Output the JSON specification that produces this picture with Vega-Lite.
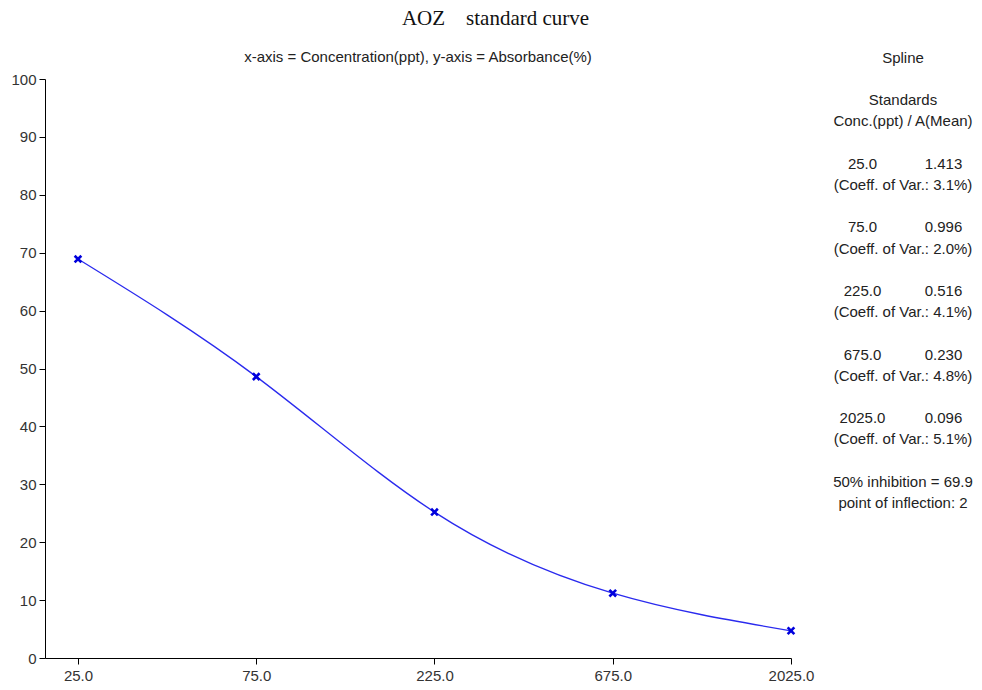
{
  "$schema": "https://vega.github.io/schema/vega-lite/v6.json",
  "background": "white",
  "padding": {"left": 10, "top": 8, "right": 2, "bottom": 4},
  "title": {
    "text": "AOZ\u00a0\u00a0\u00a0\u00a0standard curve",
    "font": "Liberation Serif",
    "fontSize": 21,
    "fontWeight": "normal",
    "color": "#111111",
    "anchor": "middle",
    "offset": 21
  },
  "config": {
    "view": {"stroke": null},
    "font": "Liberation Sans"
  },
  "spacing": 35,
  "bounds": "flush",
  "hconcat": [
    {
      "width": 746,
      "height": 579,
      "title": {
        "text": "x-axis = Concentration(ppt), y-axis = Absorbance(%)",
        "font": "Liberation Sans",
        "fontSize": 15,
        "fontWeight": "normal",
        "color": "#222222",
        "anchor": "middle",
        "offset": 7
      },
      "data": {
        "values": [
          {"conc": 25, "pct": 68.9},
          {"conc": 75, "pct": 48.6},
          {"conc": 225, "pct": 25.2},
          {"conc": 675, "pct": 11.2},
          {"conc": 2025, "pct": 4.7}
        ]
      },
      "encoding": {
        "x": {
          "field": "conc",
          "type": "quantitative",
          "scale": {"type": "log", "domain": [20.4, 2025], "nice": false},
          "axis": {
            "title": null,
            "values": [25, 75, 225, 675, 2025],
            "format": ".1f",
            "grid": false,
            "domainColor": "#000000",
            "tickColor": "#000000",
            "tickSize": 6,
            "labelFont": "Liberation Sans",
            "labelFontSize": 15,
            "labelColor": "#333333",
            "labelPadding": 4,
            "labelFlush": false
          }
        },
        "y": {
          "field": "pct",
          "type": "quantitative",
          "scale": {"domain": [0, 100], "nice": false},
          "axis": {
            "title": null,
            "values": [0, 10, 20, 30, 40, 50, 60, 70, 80, 90, 100],
            "grid": false,
            "domainColor": "#000000",
            "tickColor": "#000000",
            "tickSize": 6,
            "labelFont": "Liberation Sans",
            "labelFontSize": 15,
            "labelColor": "#333333",
            "labelPadding": 3
          }
        }
      },
      "layer": [
        {
          "mark": {"type": "line", "interpolate": "natural", "color": "#2a2aee", "strokeWidth": 1.3}
        },
        {
          "mark": {
            "type": "point",
            "shape": "M-1,-1L1,1M1,-1L-1,1",
            "size": 45,
            "stroke": "#0000dd",
            "strokeWidth": 2.6,
            "filled": false,
            "opacity": 1
          }
        }
      ]
    },
    {
      "width": 154,
      "height": 579,
      "title": {
        "text": "Spline",
        "font": "Liberation Sans",
        "fontSize": 15,
        "fontWeight": "normal",
        "color": "#222222",
        "anchor": "middle",
        "offset": 13
      },
      "data": {
        "values": [
          {"line": 0, "col": "c", "text": "Standards"},
          {"line": 1, "col": "c", "text": "Conc.(ppt) / A(Mean)"},
          {"line": 3, "col": "a", "text": "25.0"},
          {"line": 3, "col": "b", "text": "1.413"},
          {"line": 4, "col": "c", "text": "(Coeff. of Var.: 3.1%)"},
          {"line": 6, "col": "a", "text": "75.0"},
          {"line": 6, "col": "b", "text": "0.996"},
          {"line": 7, "col": "c", "text": "(Coeff. of Var.: 2.0%)"},
          {"line": 9, "col": "a", "text": "225.0"},
          {"line": 9, "col": "b", "text": "0.516"},
          {"line": 10, "col": "c", "text": "(Coeff. of Var.: 4.1%)"},
          {"line": 12, "col": "a", "text": "675.0"},
          {"line": 12, "col": "b", "text": "0.230"},
          {"line": 13, "col": "c", "text": "(Coeff. of Var.: 4.8%)"},
          {"line": 15, "col": "a", "text": "2025.0"},
          {"line": 15, "col": "b", "text": "0.096"},
          {"line": 16, "col": "c", "text": "(Coeff. of Var.: 5.1%)"},
          {"line": 18, "col": "c", "text": "50% inhibition = 69.9"},
          {"line": 19, "col": "c", "text": "point of inflection: 2"}
        ]
      },
      "mark": {
        "type": "text",
        "font": "Liberation Sans",
        "fontSize": 15,
        "color": "#222222",
        "align": "center",
        "baseline": "middle"
      },
      "encoding": {
        "x": {
          "field": "col",
          "type": "nominal",
          "scale": {"type": "point", "domain": ["a", "c", "b"], "padding": 0.9},
          "axis": null
        },
        "y": {
          "field": "line",
          "type": "quantitative",
          "scale": {"domain": [-1, 26.31], "reverse": true, "nice": false, "zero": false},
          "axis": null
        },
        "text": {"field": "text"}
      }
    }
  ]
}
